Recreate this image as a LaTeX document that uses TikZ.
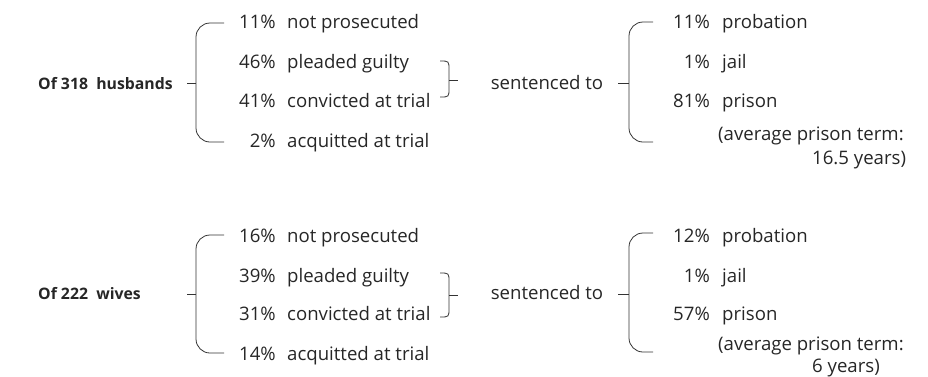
\documentclass[tikz,border=0pt]{standalone}
\usepackage{fontspec}
\setmainfont{Open Sans}
\begin{document}
\begin{tikzpicture}[x=1pt,y=-1pt,
  txt/.style={inner sep=0pt,font=\fontsize{18.6}{22}\selectfont,text=black!85},
  pct/.style={txt,anchor=base east},
  lbl/.style={txt,anchor=base west},
  mid/.style={txt,anchor=base},
  head/.style={txt,anchor=base west,font=\fontsize{15.8}{20}\selectfont\bfseries},
  br/.style={line width=0.8pt,draw=black!80},
  tick/.style={line width=0.8pt,draw=black!80}]
\useasboundingbox (0,0) rectangle (928,376);
% ---------- husbands ----------
\node[head] (h) at (38,89) {Of 318\ \ husbands};
\node[pct] (hp1) at (276,28) {11\%}; \node[lbl] (hl1) at (287,28) {not prosecuted};
\node[pct] (hp2) at (276,68) {46\%}; \node[lbl] (hl2) at (287,68) {pleaded guilty};
\node[pct] (hp3) at (276,107) {41\%}; \node[lbl] (hl3) at (287,107) {convicted at trial};
\node[pct] (hp4) at (276,147) {2\%}; \node[lbl] (hl4) at (287,147) {acquitted at trial};
\draw[br,rounded corners=14pt] (224,23) -- (196,23) -- (196,142) -- (224,142);
\coordinate (hbl) at (196,83);
\draw[tick] (187,83) -- (hbl);
\draw[br] (440,61) .. controls (449,61) .. (449,70) -- (449,88) .. controls (449,97) .. (440,97);
\coordinate (hsb) at (449,80);
\node[mid] (hs) at (547,89) {sentenced to};
\draw[tick] (hsb) -- (458,80);
\draw[br,rounded corners=14pt] (653,22) -- (629,22) -- (629,142) -- (653,142);
\coordinate (hbr) at (629,83);
\draw[tick] (618,83) -- (hbr);
\node[pct] (hq1) at (710,28) {11\%}; \node[lbl] (hm1) at (722,28) {probation};
\node[pct] (hq2) at (710,68) {1\%}; \node[lbl] (hm2) at (722,68) {jail};
\node[pct] (hq3) at (710,107) {81\%}; \node[lbl] (hm3) at (722,107) {prison};
\node[lbl] (ha1) at (718,140) {(average prison term:};
\node[lbl] (ha2) at (812,164) {16.5 years)};
% ---------- wives ----------
\node[head] (w) at (38,299) {Of 222\ \ wives};
\node[pct] (wp1) at (276,242) {16\%}; \node[lbl] (wl1) at (287,242) {not prosecuted};
\node[pct] (wp2) at (276,282) {39\%}; \node[lbl] (wl2) at (287,282) {pleaded guilty};
\node[pct] (wp3) at (276,320) {31\%}; \node[lbl] (wl3) at (287,320) {convicted at trial};
\node[pct] (wp4) at (276,360) {14\%}; \node[lbl] (wl4) at (287,360) {acquitted at trial};
\draw[br,rounded corners=14pt] (224,235) -- (196,235) -- (196,353) -- (224,353);
\coordinate (wbl) at (196,294);
\draw[tick] (187,294) -- (wbl);
\draw[br] (440,273) .. controls (449,273) .. (449,282) -- (449,308) .. controls (449,317) .. (440,317);
\coordinate (wsb) at (449,295);
\node[mid] (ws) at (547,299) {sentenced to};
\draw[tick] (wsb) -- (458,295);
\draw[br,rounded corners=14pt] (653,233) -- (629,233) -- (629,352) -- (653,352);
\coordinate (wbr) at (629,294);
\draw[tick] (618,294) -- (wbr);
\node[pct] (wq1) at (710,242) {12\%}; \node[lbl] (wm1) at (722,242) {probation};
\node[pct] (wq2) at (710,282) {1\%}; \node[lbl] (wm2) at (722,282) {jail};
\node[pct] (wq3) at (710,320) {57\%}; \node[lbl] (wm3) at (722,320) {prison};
\node[lbl] (wa1) at (718,350) {(average prison term:};
\node[lbl] (wa2) at (812,372) {6 years)};
\end{tikzpicture}
\end{document}
